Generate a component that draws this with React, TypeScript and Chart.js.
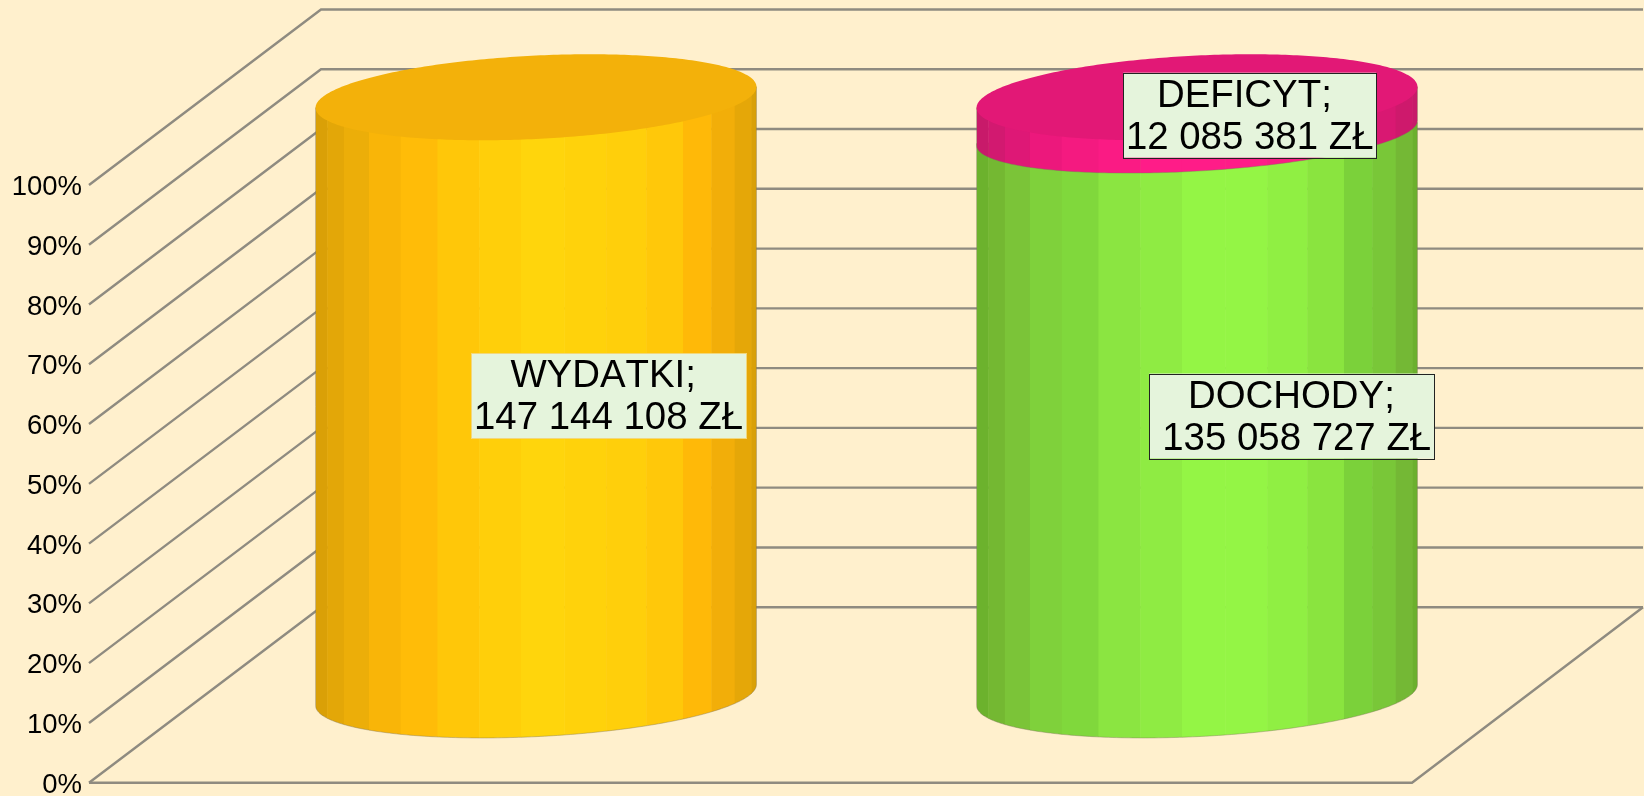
import React, { useEffect, useRef } from "react";
import { Chart, registerables } from "chart.js";

Chart.register(...registerables);

const categories = ["WYDATKI", "DOCHODY + DEFICYT"];
const percentTicks = [0, 10, 20, 30, 40, 50, 60, 70, 80, 90, 100];
// Heights (percent of the axis).
const wydatkiShare = [100, null];
const dochodyShare = [null, 94];
const deficytShare = [null, 6];
const wydatkiLabel = ["WYDATKI; ", "147 144 108 ZŁ"];
const dochodyLabel = ["DOCHODY; ", "135 058 727 ZŁ"];
const deficytLabel = ["DEFICYT; ", "12 085 381 ZŁ"];

const BG = "#FFF0CD";
const GRID = "#8F8B80";
const DEPTH_X = 231;
const DEPTH_Y = 175.5;
const TILT = 10.5;
const HALF = 43;
const BOUNDARY_HALF = 40;
const BOUNDARY_TILT = 12.5;
const BAND_EDGES = [0, 11.7, 28.3, 53.3, 85, 121.7, 163.3, 205, 248.3, 290, 330, 366.7, 395, 418.3, 435, 440].map((v) => v / 440);
const yellowBands = ["#DAA007", "#E3A708", "#ECAE09", "#F9B508", "#FFBC08", "#FFC709", "#FFCF0A", "#FFD50C", "#FFD20B", "#FFCF0B", "#FFC80A", "#FFB908", "#F2AE09", "#E5A708", "#D9A007"];
const greenBands = ["#6CB22D", "#74B832", "#7BC438", "#7FD13B", "#80D83C", "#8BE541", "#8FEB43", "#94F545", "#94F545", "#90EF43", "#8AE43F", "#7BD13A", "#79C738", "#74B835", "#6BB02D"];
const pinkBands = ["#C81A6A", "#D21970", "#DE1876", "#EC187C", "#F41A80", "#FA1B84", "#FF1C88", "#FF1C88", "#FF1C88", "#FA1B84", "#F41A80", "#E61878", "#D91872", "#CE196C", "#C81A6A"];
const yellowTop = "#F3B10A";
const pinkTop = "#E21876";
const BOX_FILL = "#E5F4DC";

type Seg = {
  dataset: number;
  index: number;
  bands: string[];
  top?: string;
  lower: [number, number];
  label: string[];
  dx: number;
  dy: number;
  boxW: number;
  textDx: number;
  border: string;
};

const segments: Seg[] = [
  { dataset: 0, index: 0, bands: yellowBands, top: yellowTop, lower: [HALF, TILT], label: wydatkiLabel, dx: 72.5, dy: -0.5, boxW: 275, textDx: 0, border: "#F2D77A" },
  { dataset: 1, index: 1, bands: greenBands, lower: [HALF, TILT], label: dochodyLabel, dx: 94.7, dy: 2, boxW: 285, textDx: 5, border: "#222222" },
  { dataset: 2, index: 1, bands: pinkBands, top: pinkTop, lower: [BOUNDARY_HALF, BOUNDARY_TILT], label: deficytLabel, dx: 52.7, dy: 0, boxW: 253, textDx: 0, border: "#222222" },
];

function ellipsePoint(cx: number, cy: number, a: number, half: number, tilt: number, t: number) {
  const b = Math.sqrt(half * half - tilt * tilt);
  return [cx + a * Math.cos(t), cy + b * Math.sin(t) - tilt * Math.cos(t)];
}

const cylinderPlugin = {
  id: "cylinder3d",
  beforeDatasetsDraw(chart: any) {
    const { ctx, scales, chartArea } = chart;
    const y = scales.y;
    ctx.save();
    ctx.strokeStyle = GRID;
    ctx.lineWidth = 2.4;
    ctx.lineCap = "butt";
    ctx.lineJoin = "miter";
    for (const tick of percentTicks) {
      const py = y.getPixelForValue(tick);
      ctx.beginPath();
      ctx.moveTo(chartArea.left - 1, py);
      ctx.lineTo(chartArea.left + DEPTH_X, py - DEPTH_Y);
      ctx.lineTo(chartArea.right + DEPTH_X, py - DEPTH_Y);
      ctx.stroke();
    }
    const base = y.getPixelForValue(0);
    ctx.beginPath();
    ctx.moveTo(chartArea.left - 1, base);
    ctx.lineTo(chartArea.right, base);
    ctx.lineTo(chartArea.right + DEPTH_X, base - DEPTH_Y);
    ctx.stroke();
    ctx.restore();
  },
  afterDatasetsDraw(chart: any) {
    const { ctx } = chart;
    const tops: Array<() => void> = [];
    for (const seg of segments) {
      const el = chart.getDatasetMeta(seg.dataset).data[seg.index];
      const p = el.getProps(["x", "y", "base", "width"], true);
      const cx = p.x + DEPTH_X / 2;
      const a = p.width / 2;
      const yTop = p.y - DEPTH_Y / 2;
      const yBase = p.base - DEPTH_Y / 2;
      const [half, tilt] = seg.lower;

      const side = new Path2D();
      side.moveTo(cx - a, yTop + TILT);
      side.lineTo(cx - a, yBase + tilt);
      for (let i = 0; i <= 160; i++) {
        const [ex, ey] = ellipsePoint(cx, yBase, a, half, tilt, Math.PI - (Math.PI * i) / 160);
        side.lineTo(ex, ey);
      }
      side.lineTo(cx + a, yTop - TILT);
      side.closePath();

      ctx.save();
      ctx.clip(side);
      seg.bands.forEach((color, i) => {
        const x0 = cx - a + BAND_EDGES[i] * p.width;
        const x1 = cx - a + BAND_EDGES[i + 1] * p.width;
        ctx.fillStyle = color;
        ctx.fillRect(x0, yTop - HALF, x1 - x0 + 0.5, yBase - yTop + 2 * HALF + 10);
      });
      ctx.restore();
      ctx.strokeStyle = "rgba(125,115,90,0.4)";
      ctx.lineWidth = 1;
      ctx.stroke(side);

      if (seg.top) {
        const cap = new Path2D();
        for (let i = 0; i <= 320; i++) {
          const [ex, ey] = ellipsePoint(cx, yTop, a, HALF, TILT, (2 * Math.PI * i) / 320);
          if (i === 0) cap.moveTo(ex, ey);
          else cap.lineTo(ex, ey);
        }
        cap.closePath();
        ctx.fillStyle = seg.top;
        ctx.fill(cap);
      }
      tops.push(() => {
        const boxCx = cx + seg.dx;
        const boxCy = (yTop + yBase) / 2 + seg.dy;
        const w = seg.boxW;
        const h = 85;
        const tx = boxCx + seg.textDx;
        ctx.font = '38.4px "Liberation Sans"';
        (ctx as any).fontKerning = "none";
        ctx.textAlign = "center";
        ctx.textBaseline = "alphabetic";
        ctx.fillStyle = BOX_FILL;
        ctx.fillRect(boxCx - w / 2, boxCy - h / 2, w, h);
        ctx.strokeStyle = seg.border;
        ctx.lineWidth = 1;
        ctx.strokeRect(Math.round(boxCx - w / 2) + 0.5, Math.round(boxCy - h / 2) + 0.5, w, h);
        ctx.fillStyle = "#000000";
        ctx.fillText(seg.label[1], tx, boxCy + 33.5);
        ctx.fillText(seg.label[0], tx, boxCy - 8.5);
      });
    }
    tops.forEach((f) => f());
  },
};

export default function App() {
  const ref = useRef<HTMLCanvasElement | null>(null);
  useEffect(() => {
    document.body.style.margin = "0";
    document.body.style.background = BG;
    const chart = new Chart(ref.current as HTMLCanvasElement, {
      type: "bar",
      data: {
        labels: categories,
        datasets: [
          { label: "WYDATKI", data: wydatkiShare, backgroundColor: "transparent", stack: "s" },
          { label: "DOCHODY", data: dochodyShare, backgroundColor: "transparent", stack: "s" },
          { label: "DEFICYT", data: deficytShare, backgroundColor: "transparent", stack: "s" },
        ] as any,
      },
      options: {
        responsive: false,
        maintainAspectRatio: false,
        animation: false,
        events: [],
        layout: { autoPadding: false, padding: { top: 185, bottom: 13.3, left: 0, right: 232 } },
        datasets: { bar: { categoryPercentage: 1, barPercentage: 0.667 } },
        plugins: { legend: { display: false }, title: { display: false }, tooltip: { enabled: false } },
        scales: {
          x: { stacked: true, display: false },
          y: {
            stacked: true,
            min: 0,
            max: 100,
            afterFit(scale: any) {
              scale.width = 90;
              scale.paddingTop = 0;
              scale.paddingBottom = 0;
            },
            afterBuildTicks(scale: any) {
              scale.ticks = percentTicks.map((value) => ({ value }));
            },
            grid: { display: false, drawTicks: false },
            border: { display: false },
            ticks: {
              padding: 8,
              labelOffset: 2.5,
              color: "#000000",
              font: { family: '"Liberation Sans"', size: 27.5 },
              autoSkip: false,
              callback: (v: any) => `${v}%`,
            },
          },
        },
      },
      plugins: [cylinderPlugin],
    } as any);
    return () => chart.destroy();
  }, []);
  return (
    <div style={{ position: "fixed", left: 0, top: 0, width: 1644, height: 796, background: BG, overflow: "hidden" }}>
      <canvas ref={ref} width={1644} height={796} style={{ display: "block" }} />
    </div>
  );
}
